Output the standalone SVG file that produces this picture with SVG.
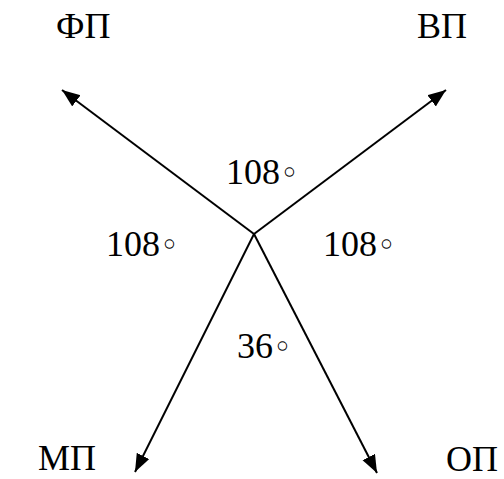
<svg xmlns="http://www.w3.org/2000/svg" width="504" height="479" viewBox="0 0 504 479">
<style>
text{font-family:"Liberation Serif","Times New Roman",serif;font-size:36px;fill:#000}
.deg{font-family:"DejaVu Sans",sans-serif;font-size:32px}
.c{stroke:#000;stroke-width:2;fill:none;marker-end:url(#ah)}
</style>
<defs>
<marker id="ah" markerUnits="userSpaceOnUse" markerWidth="20" markerHeight="16" refX="18" refY="7" orient="auto">
<path d="M0,0 L18,7 L0,14 z" fill="#000"/>
</marker>
</defs>
<rect width="504" height="479" fill="#fff"/>
<g id="connectors">
<line class="c" x1="254" y1="234" x2="62" y2="90"/>
<line class="c" x1="254" y1="234" x2="446" y2="90"/>
<line class="c" x1="254" y1="234" x2="135" y2="472"/>
<line class="c" x1="254" y1="234" x2="377" y2="473"/>
</g>
<g id="fp"><text x="56" y="38">ФП</text></g>
<g id="vp"><text x="417" y="38">ВП</text></g>
<g id="mp"><text x="38" y="470">МП</text></g>
<g id="op"><text x="446" y="471">ОП</text></g>
<g id="a1"><text x="226" y="184">108<tspan class="deg">◦</tspan></text></g>
<g id="a2"><text x="106" y="256">108<tspan class="deg">◦</tspan></text></g>
<g id="a3"><text x="323" y="256">108<tspan class="deg">◦</tspan></text></g>
<g id="a4"><text x="237" y="358">36<tspan class="deg">◦</tspan></text></g>
</svg>
